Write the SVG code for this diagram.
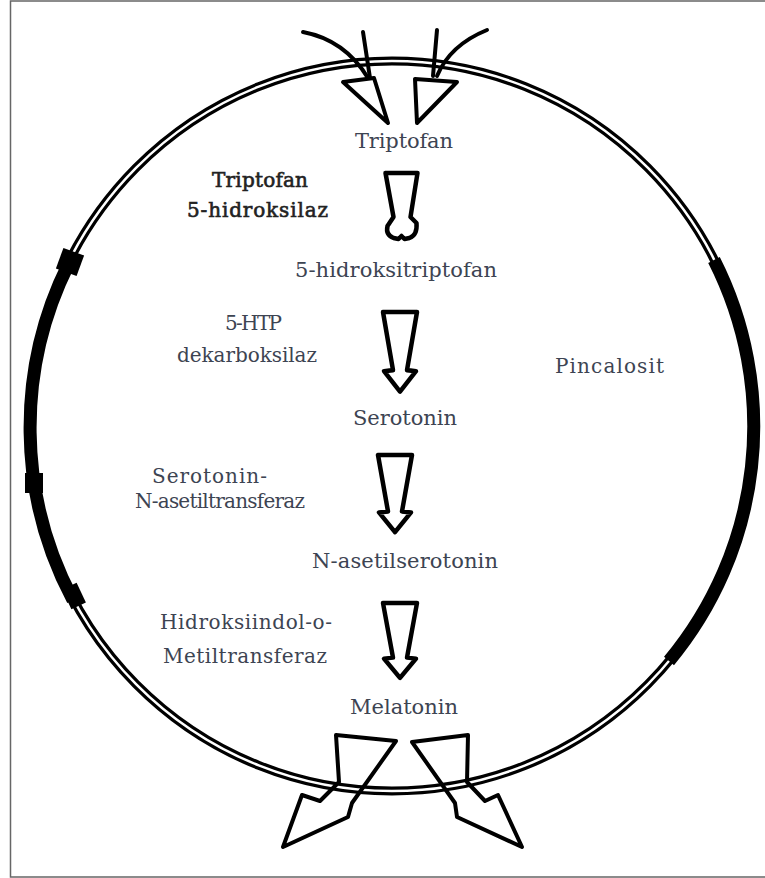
<svg xmlns="http://www.w3.org/2000/svg" width="765" height="878" viewBox="0 0 765 878">
<style>
.t{font-family:"DejaVu Serif","Liberation Serif",serif;fill:#3d4452;font-size:21px}
.s{font-size:20px}
.b{fill:#222;stroke:#222;stroke-width:0.6;font-size:20px}
.ar{fill:none;stroke:#000;stroke-width:4.5;stroke-linejoin:round;stroke-linecap:round}
.io{fill:none;stroke:#000;stroke-width:4;stroke-linejoin:round;stroke-linecap:round}
</style>
<defs>
<path id="enz" d="M-17,0 L17,0 L7,57 L16,58 L0,78 L-16,58 L-7,57 Z"/>
</defs>
<rect width="765" height="878" fill="#fff"/>
<path d="M766,1 H10.5 V877 H766" fill="none" stroke="#666" stroke-width="1.5"/>

<g id="cell">
<ellipse cx="392" cy="426" rx="362" ry="365" fill="none" stroke="#000" stroke-width="9"/>
<ellipse cx="392" cy="426" rx="362" ry="365" fill="none" stroke="#fff" stroke-width="2.5"/>
<path d="M68.5,264 A362,365 0 0 0 73,600" fill="none" stroke="#000" stroke-width="13"/>
<path d="M714,260 A362,365 0 0 1 669,661" fill="none" stroke="#000" stroke-width="13"/>
<rect x="59" y="251" width="22" height="22" fill="#000" transform="rotate(20 70 262)"/>
<rect x="25" y="473" width="18" height="20" fill="#000"/>
<rect x="66" y="585" width="16" height="22" fill="#000" transform="rotate(-25 74 596)"/>
</g>

<g id="connectors">
<path class="io" d="M303,32 Q345,40 368,78"/>
<path class="io" d="M363,32 L370,78"/>
<path class="io" d="M343,82 L374,78 L388,123 Z"/>
<path class="io" d="M487,30 Q450,45 437,76"/>
<path class="io" d="M437,30 L433,76"/>
<path class="io" d="M457,82 L415,79 L417,123 Z"/>

<path class="ar" transform="translate(401.5,173)" d="M-16,0 L16,0 L9,44 L15,50 Q16,62 8,65 L3,66 L0,63 L-3,66 L-8,65 Q-16,62 -14,53 L-8,44 Z"/>
<use class="ar" href="#enz" transform="translate(400,312) scale(1,1.02)"/>
<use class="ar" href="#enz" transform="translate(395,455) scale(1,0.99)"/>
<use class="ar" href="#enz" transform="translate(400,603) scale(1,0.96)"/>

<path class="io" d="M336,735 L396,741 L352,803 L348,817 L283,847 L302,795 L320,801 L339,782 Z"/>
<path class="io" d="M468,735 L412,742 L455,803 L457,817 L522,847 L498,795 L485,801 L467,782 Z"/>
</g>

<g id="triptofan"><text class="t" x="355" y="148" textLength="98">Triptofan</text></g>
<g id="enzyme1"><text class="t b" x="212" y="187" textLength="96">Triptofan</text><text class="t b" x="187" y="217" textLength="141">5-hidroksilaz</text></g>
<g id="htp"><text class="t" x="295" y="277" textLength="202">5-hidroksitriptofan</text></g>
<g id="enzyme2"><text class="t s" x="225" y="330" textLength="57">5-HTP</text><text class="t s" x="177" y="362" textLength="140">dekarboksilaz</text></g>
<g id="pincalosit"><text class="t s" x="555" y="373" textLength="109">Pincalosit</text></g>
<g id="serotonin"><text class="t" x="353" y="425" textLength="104">Serotonin</text></g>
<g id="enzyme3"><text class="t s" x="152" y="483" textLength="115">Serotonin-</text><text class="t s" x="135" y="508" textLength="170">N-asetiltransferaz</text></g>
<g id="nas"><text class="t" x="312" y="568" textLength="186">N-asetilserotonin</text></g>
<g id="enzyme4"><text class="t s" x="160" y="629" textLength="172">Hidroksiindol-o-</text><text class="t s" x="163" y="663" textLength="164">Metiltransferaz</text></g>
<g id="melatonin"><text class="t" x="350" y="714" textLength="108">Melatonin</text></g>
</svg>
